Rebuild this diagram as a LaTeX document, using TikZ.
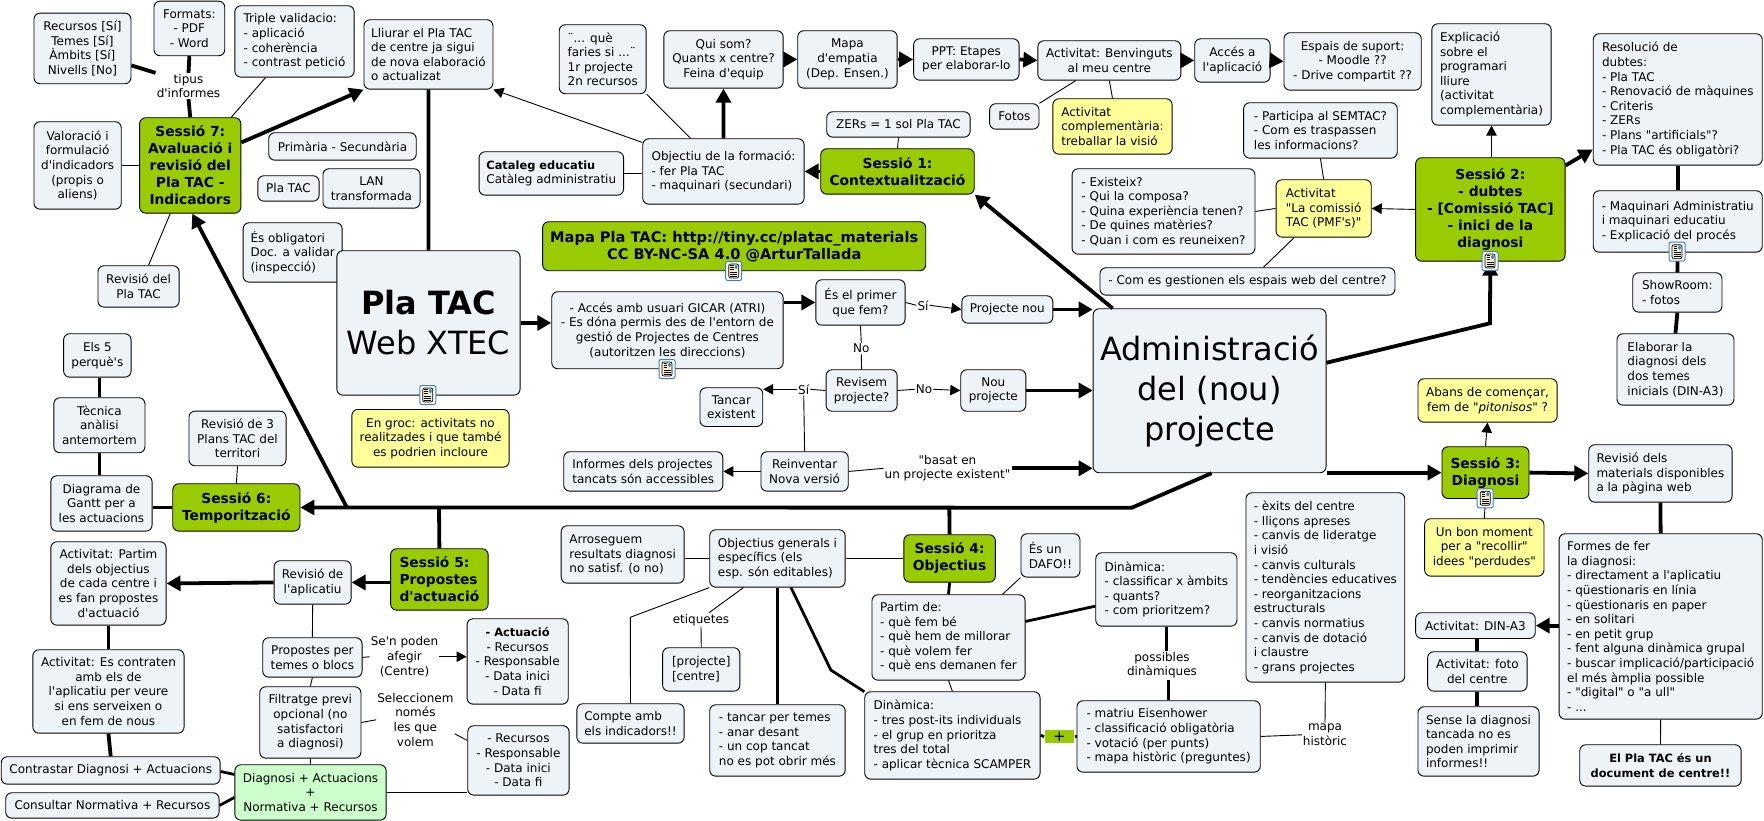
\documentclass[tikz,border=0pt]{standalone}
\usepackage{fontspec}
\usetikzlibrary{arrows.meta}
\newfontfamily\dv{DejaVu Sans}
\definecolor{boxfill}{HTML}{EDF3F6}
\definecolor{sessgreen}{HTML}{99CC00}
\definecolor{notegroc}{HTML}{FFFF99}
\definecolor{mixgreen}{HTML}{CCFFCC}
\definecolor{iconblue}{HTML}{3F7FD0}
\definecolor{iconpaper}{HTML}{F8F0C0}
\newcommand{\bfs}[1]{{\fontsize{11.4}{14.6}\selectfont\bfseries #1}}
\tikzset{
    sz/.style 2 args={minimum width=#1pt, minimum height=#2pt},
    box/.style={draw=black, fill=boxfill, rounded corners=6pt, anchor=north west, inner sep=0pt,
        line width=0.9pt, align=center, font=\dv\fontsize{12}{14.6}\selectfont},
    lbox/.style={box, align=left},
    note/.style={box, fill=notegroc},
    sess/.style={box, fill=sessgreen, font=\dv\bfseries\fontsize{13.8}{17}\selectfont},
    lab/.style={align=center, inner sep=1pt, font=\dv\fontsize{12}{14.6}\selectfont},
    fat/.style={line width=3.8pt},
    med/.style={line width=2.8pt},
    hair/.style={line width=0.9pt},
    bigtip/.style={-{Triangle[length=14pt,width=15pt]}},
    midtip/.style={-{Triangle[length=10pt,width=10.5pt]}},
    docicon/.style={draw=iconblue, fill=white, rounded corners=2pt, minimum width=16pt, minimum height=19pt,
        inner sep=0pt, line width=1pt, path picture={
            \begin{scope}[shift={(path picture bounding box.center)}]
                \draw[black, fill=iconpaper, line width=0.7pt] (-5,-7) rectangle (5,7);
                \fill[iconblue] (1,-6) rectangle (4,-2);
                \foreach \i in {-5.5,-3.5,-1.5} \draw[black, line width=0.7pt] (-3.5,\i) -- (0,\i);
                \foreach \i in {1,3,5} \draw[black, line width=0.7pt] (-3.5,\i) -- (3.5,\i);
            \end{scope}}},
}
\begin{document}
\begin{tikzpicture}[x=1pt, y=-1pt]
    \useasboundingbox (0,0) rectangle (1764,821);

    % left column, session 7
    \node[box, sz={97}{70.6}] (recursos) at (33.5,12.7) {Recursos [Sí]\\Temes [Sí]\\Àmbits [Sí]\\Nivells [No]};
    \node[box, sz={70.8}{54.6}] (formats) at (153.5,0.7) {Formats:\\- PDF\\- Word};
    \node[lbox, sz={119.3}{71.4}] (triple) at (234.4,5.3) {Triple validacio:\\- aplicació\\- coherència\\- contrast petició};
    \node[lbox, sz={129}{69.4}] (lliurar) at (363.5,19.3) {Lliurar el Pla TAC\\de centre ja sigui\\de nova elaboració\\o actualizat};
    \node[sess, sz={101.2}{95.4}] (sess7) at (139.2,117.3) {Sessió 7:\\Avaluació i\\revisió del\\Pla TAC -\\Indicadors};
    \node[box, sz={87.3}{87.4}] (valoracio) at (33.5,121.3) {Valoració i\\formulació\\d'indicadors\\(propis o\\aliens)};
    \node[box, sz={147.5}{27.4}] (primaria) at (268.3,132.3) {Primària - Secundària};
    \node[box, sz={61.3}{25.4}] (platacs) at (257.4,175.3) {Pla TAC};
    \node[box, sz={97.1}{39.4}] (lan) at (322.5,168.3) {LAN\\transformada};
    \node[lbox, sz={99}{59.4}, xshift=-4pt] (obligatori) at (246.7,222.3) {És obligatori\\Doc. a validar\\(inspecció)};
    \node[box, sz={81.2}{41.4}] (revisio) at (97.5,265.3) {Revisió del\\Pla TAC};
    \node[box, sz={183.2}{144.4}, font=\dv\fontsize{32}{40}\selectfont] (platac) at (336.4,250.3) {\textbf{Pla TAC}\\Web XTEC};
    \node[lab] (tipus) at (188.5,86) {tipus\\d'informes};

    % session 6 and its column
    \node[box, sz={67.4}{43.4}] (cinc) at (63.2,333.3) {Els 5\\perquè's};
    \node[box, sz={91.1}{55}] (tecnica) at (53.4,397.3) {Tècnica\\anàlisi\\antemortem};
    \node[box, sz={101.2}{55.4}] (gantt) at (50.4,475.3) {Diagrama de\\Gantt per a\\les actuacions};
    \node[box, sz={97.1}{54.6}] (revisio3) at (188.5,410.7) {Revisió de 3\\Plans TAC del\\territori};
    \node[sess, sz={127.2}{47.4}] (sess6) at (172.3,483.3) {Sessió 6:\\Temporització};
    \node[note, sz={157.3}{57.7}] (engroc) at (351.4,409) {En groc: activitats no\\realitzades i que també\\es podrien incloure};

    % session 5
    \node[box, sz={115.2}{83.4}] (partimc) at (50.4,541.3) {Activitat: Partim\\dels objectius\\de cada centre i\\es fan propostes\\d'actuació};
    \node[box, sz={77.1}{43.4}] (revapl) at (273.6,560.3) {Revisió de\\l'aplicatiu};
    \node[sess, sz={97.5}{61.4}, align=left] (sess5) at (390.2,548.3) {Sessió 5:\\Propostes\\d'actuació};
    \node[box, sz={151.2}{83.4}] (contraten) at (32.4,649.3) {Activitat: Es contraten\\amb els de\\l'aplicatiu per veure\\si ens serveixen o\\en fem de nous};
    \node[box, sz={99.3}{39.4}] (propostes) at (262.3,637.3) {Propostes per\\temes o blocs};
    \node[box, sz={101.2}{85.4}] (actuacio) at (466.6,618.3) {\bfs{- Actuació}\\- Recursos\\- Responsable\\- Data inici\\- Data fi};
    \node[box, sz={101.2}{71.4}] (filtratge) at (259.3,686.3) {Filtratge previ\\opcional (no\\satisfactori\\a diagnosi)};
    \node[box, sz={101.3}{69.4}] (recursosb) at (467.3,725.3) {- Recursos\\- Responsable\\- Data inici\\- Data fi};
    \node[box, sz={218.9}{27.4}] (contrastar) at (0.8,756.3) {Contrastar Diagnosi + Actuacions};
    \node[box, sz={213.3}{25.4}] (consultar) at (5.3,792.3) {Consultar Normativa + Recursos};
    \node[box, sz={151.3}{55.4}, fill=mixgreen] (diagnosi) at (234.4,764.3) {Diagnosi + Actuacions\\+\\Normativa + Recursos};
    \node[lab] (senpoden) at (404.5,656.7) {Se'n poden\\afegir\\(Centre)};
    \node[lab] (selec) at (415.4,719.8) {Seleccionem\\només\\les que\\volem};

    % session 1, top row
    \node[lbox, sz={86.9}{69}] (faries) at (558.8,24.3) {¨... què\\faries si ...¨\\1r projecte\\2n recursos};
    \node[box, sz={119.3}{57.4}] (quisom) at (663.4,30.3) {Qui som?\\Quants x centre?\\Feina d'equip};
    \node[box, sz={99.4}{57.4}] (empatia) at (797.3,30.3) {Mapa\\d'empatia\\(Dep. Ensen.)};
    \node[box, sz={105.4}{41.4}] (ppt) at (913.2,38.3) {PPT: Etapes\\per elaborar-lo};
    \node[box, sz={143}{39.4}] (benvinguts) at (1037.4,40.3) {Activitat: Benvinguts\\al meu centre};
    \node[box, sz={75.3}{43.4}] (aplicacio) at (1194.3,38.3) {Accés a\\l'aplicació};
    \node[box, sz={137.3}{57.4}] (espais) at (1283.5,32.3) {Espais de suport:\\- Moodle ??\\- Drive compartit ??};
    \node[box, sz={49.3}{25.4}] (fotos) at (989.2,103.3) {Fotos};
    \node[note, sz={119.3}{55.4}, align=left] (visio) at (1052.4,98.3) {Activitat\\complementària:\\treballar la visió};
    \node[box, sz={143.4}{25.4}] (zers) at (826.3,111.3) {ZERs = 1 sol Pla TAC};
    \node[sess, sz={153.5}{45.4}] (sess1) at (820.3,148.3) {Sessió 1:\\Contextualització};
    \node[lbox, sz={161.4}{65.4}] (objectiu) at (642.3,138.3) {Objectiu de la formació:\\- fer Pla TAC\\- maquinari (secundari)};
    \node[lbox, sz={144.5}{43.4}] (cataleg) at (478.6,151.3) {\bfs{Cataleg educatiu}\\Catàleg administratiu};
    \node[sess, sz={383.1}{49}, font=\dv\bfseries\fontsize{14.6}{17}\selectfont] (mapa) at (542.2,221.3) {Mapa Pla TAC: http://tiny.cc/platac\_materials\\CC BY-NC-SA 4.0 @ArturTallada};

    % web access, decisions
    \node[box, sz={231.4}{77}] (acces) at (551.3,291.3) {- Accés amb usuari GICAR (ATRI)\\- Es dóna permis des de l'entorn de\\gestió de Projectes de Centres\\(autoritzen les direccions)};
    \node[box, sz={89.2}{45.4}] (primer) at (815.4,279.3) {És el primer\\que fem?};
    \node[box, sz={91}{27.4}] (nou) at (961.4,295.3) {Projecte nou};
    \node[box, sz={71.1}{41.5}] (revisem) at (825.6,369.3) {Revisem\\projecte?};
    \node[box, sz={65.1}{41.5}] (noupro) at (960.3,369.3) {Nou\\projecte};
    \node[box, sz={62.8}{38.7}] (tancar) at (699.5,387.3) {Tancar\\existent};
    \node[lbox, sz={159.1}{39.4}] (informes) at (563.3,451.3) {Informes dels projectes\\tancats són accessibles};
    \node[box, sz={87.3}{39.4}] (reinventar) at (760.5,451.3) {Reinventar\\Nova versió};
    \node[lab] (sia) at (923,305.3) {Sí};
    \node[lab] (noa) at (861.3,348.7) {No};
    \node[lab] (nob) at (924,389.3) {No};
    \node[lab] (sib) at (803.7,389.3) {Sí};
    \node[lab] (basat) at (947.5,468.3) {"basat en\\un projecte existent"};
    \node[box, sz={232.9}{164}, font=\dv\fontsize{32}{40}\selectfont] (admin) at (1092.7,308.3) {Administració\\del (nou)\\projecte};

    % session 2
    \node[lbox, sz={119.3}{101.4}] (explicacio) at (1431.4,23.3) {Explicació\\sobre el\\programari\\lliure\\(activitat\\complementària)};
    \node[lbox, sz={169}{131.4}] (resolucio) at (1592.8,33.3) {Resolució de\\dubtes:\\- Pla TAC\\- Renovació de màquines\\- Criteris\\- ZERs\\- Plans "artificials"?\\- Pla TAC és obligatòri?};
    \node[lbox, sz={153.6}{55.4}] (participa) at (1243.2,102.3) {- Participa al SEMTAC?\\- Com es traspassen\\les informacions?};
    \node[lbox, sz={182.9}{85.4}] (existeix) at (1071.6,168.3) {- Existeix?\\- Qui la composa?\\- Quina experiència tenen?\\- De quines matèries?\\- Quan i com es reuneixen?};
    \node[note, sz={95.2}{57.4}, align=left] (comissio) at (1275.6,179.3) {Activitat\\"La comissió\\TAC (PMF's)"};
    \node[sess, sz={149.4}{103.4}] (sess2) at (1415.2,157.3) {Sessió 2:\\- dubtes\\- [Comissió TAC]\\- inici de la\\diagnosi};
    \node[box, sz={295}{27.4}] (comes) at (1099.5,267.3) {- Com es gestionen els espais web del centre?};
    \node[lbox, sz={169}{61.4}] (maquinari) at (1592.8,190.3) {- Maquinari Administratiu\\i maquinari educatiu\\- Explicació del procés};
    \node[lbox, sz={89.2}{39.4}] (showroom) at (1632.3,272.3) {ShowRoom:\\- fotos};
    \node[lbox, sz={117}{71.4}] (elaborar) at (1616.5,333.3) {Elaborar la\\diagnosi dels\\dos temes\\inicials (DIN-A3)};

    % session 3
    \node[note, sz={139.2}{43.4}] (abans) at (1417.5,378.3) {Abans de començar,\\fem de "\textit{pitonisos}" ?};
    \node[sess, sz={87}{51.7}] (sess3) at (1441.5,446.3) {Sessió 3:\\Diagnosi};
    \node[lbox, sz={143.3}{57.4}] (revmat) at (1588.3,444.3) {Revisió dels\\materials disponibles\\a la pàgina web};
    \node[note, sz={119.3}{57.4}] (unbon) at (1424.2,518.3) {Un bon moment\\per a "recollir"\\idees "perdudes"};
    \node[lbox, sz={203.2}{185.4}] (formes) at (1558.6,533.3) {Formes de fer\\la diagnosi:\\- directament a l'aplicatiu\\- qüestionaris en línia\\- qüestionaris en paper\\- en solitari\\- en petit grup\\- fent alguna dinàmica grupal\\- buscar implicació/participació\\el més àmplia possible\\- "digital" o "a ull"\\- ...};
    \node[box, sz={119.6}{25.7}] (dina) at (1415.2,612.3) {Activitat: DIN-A3};
    \node[box, sz={99.4}{39.4}] (foto) at (1427.2,651.3) {Activitat: foto\\del centre};
    \node[lbox, sz={121.1}{69.4}] (sense) at (1417.5,706.3) {Sense la diagnosi\\tancada no es\\poden imprimir\\informes!!};
    \node[box, sz={161.4}{41.4}] (elpla) at (1579.3,744.3) {\bfs{El Pla TAC és un}\\\bfs{document de centre!!}};

    % session 4
    \node[lbox, sz={123}{57.4}] (arroseguem) at (560.7,525.3) {Arroseguem\\resultats diagnosi\\no satisf. (o no)};
    \node[lbox, sz={135.4}{57.4}] (objgen) at (709.3,529.3) {Objectius generals i\\específics (els\\esp. són editables)};
    \node[sess, sz={91.5}{47.4}] (sess4) at (903.4,534.3) {Sessió 4:\\Objectius};
    \node[lbox, sz={59}{43.4}] (dafo) at (1020.5,533.3) {És un\\DAFO!!};
    \node[lbox, sz={141.2}{73.4}] (dinamicaa) at (1095.3,552.3) {Dinàmica:\\- classificar x àmbits\\- quants?\\- com prioritzem?};
    \node[lbox, sz={153.1}{85.4}] (partimde) at (871.5,594.3) {Partim de:\\- què fem bé\\- què hem de millorar\\- què volem fer\\- què ens demanen fer};
    \node[lbox, sz={107.3}{39.4}] (compte) at (576.4,703.3) {Compte amb\\els indicadors!!};
    \node[lbox, sz={77.2}{43.4}] (etiq) at (662.2,647.3) {[projecte]\\{}[centre]};
    \node[lbox, sz={135.4}{71.4}] (tancarper) at (709.3,704.3) {- tancar per temes\\- anar desant\\- un cop tancat\\no es pot obrir més};
    \node[lbox, sz={175.3}{87.4}] (dinamicab) at (864.3,691.3) {Dinàmica:\\- tres post-its individuals\\- el grup en prioritza\\tres del total\\- aplicar tècnica SCAMPER};
    \node[box, sz={29.7}{13.4}, draw=none, rounded corners=0pt, fill=sessgreen, font=\dv\fontsize{15}{15}\selectfont] (plus) at (1044.2,729.3) {+};
    \node[lbox, sz={183.3}{71.4}] (matriu) at (1076.5,700.3) {- matriu Eisenhower\\- classificació obligatòria\\- votació (per punts)\\- mapa històric (preguntes)};
    \node[lbox, sz={158.8}{189.4}] (exits) at (1245.5,492.3) {- èxits del centre\\- lliçons apreses\\- canvis de lideratge\\i visió\\- canvis culturals\\- tendències educatives\\- reorganitzacions\\estructurals\\- canvis normatius\\- canvis de dotació\\i claustre\\- grans projectes};
    \node[lab] (etiquetes) at (701,619.7) {etiquetes};
    \node[lab] (possibles) at (1162,665.3) {possibles\\dinàmiques};
    \node[lab] (historic) at (1325,734.8) {mapa\\històric};

    \coordinate (kneeadmin) at (1131.8,507.7);
    \coordinate (kneesess7) at (347,507.7);
    \coordinate (kneesess5) at (439,507.7);
    \coordinate (kneesess4) at (949.3,507.7);
    \coordinate (kneesess2) at (1489.9,323.3);
    \coordinate (kneecompte) at (630.3,617.3);
    \coordinate (kneedin) at (830.8,670);

    % main branches
    \draw[fat, bigtip] ([xshift=2]admin.south) -- (kneeadmin) -- (sess6.east);
    \draw[fat, bigtip] (kneesess7) -- ([xshift=2]sess7.south);
    \draw[fat] (kneesess5) -- (sess5.north);
    \draw[fat] (kneesess4) -- (sess4.north);
    \draw[fat, bigtip] ([yshift=28]admin.east) -- (kneesess2) -- (sess2.south);
    \draw[fat, bigtip] (sess3.west -| admin.east) -- (sess3.west);
    \draw[fat, bigtip] ([xshift=-97]admin.north) -- (sess1.south east);

    % session 7
    \draw[fat] ([yshift=-17]recursos.east) -- (tipus.north west);
    \draw[fat] (formats.south) -- (tipus.north);
    \draw[fat] (tipus.south) -- (sess7.north);
    \draw[hair] ([xshift=-29]triple.south) -- ([xshift=41]sess7.north);
    \draw[hair] (valoracio.east) -- (sess7.west);
    \draw[hair] ([xshift=10]revisio.north) -- ([xshift=-20]sess7.south);
    \draw[fat, bigtip] ([yshift=23]sess7.east) -- (lliurar.south west);
    \draw[fat] (lliurar.south) -- (platac.north);
    \draw[fat, bigtip] (platac.east) -- (platac.east -| acces.west);

    % session 6
    \draw[fat] (cinc.south -| tecnica.north) -- (tecnica.north);
    \draw[fat] (tecnica.south) -- (tecnica.south |- gantt.north);
    \draw[fat] (sess6.west -| gantt.east) -- (sess6.west);
    \draw[hair] (sess6.north) -- (revisio3.south);

    % session 5
    \draw[fat, bigtip] (sess5.west |- revapl.east) -- (revapl.east);
    \draw[fat, bigtip] (revapl.west) -- (partimc.east);
    \draw[fat] (partimc.south) -- (contraten.north);
    \draw[fat] (contraten.south) -- (contrastar.north);
    \draw[med] ([yshift=-1]contrastar.east) -- ([yshift=18]diagnosi.west);
    \draw[med] (consultar.east) -- ([yshift=-5]diagnosi.west);
    \draw[hair] (revapl.south) -- (propostes.north);
    \draw[hair] (propostes.south) -- (filtratge.north);
    \draw[hair] (filtratge.south) -- (diagnosi.north);
    \draw[hair] (propostes.east) -- (senpoden.west);
    \draw[hair, midtip] (senpoden.east) -- (senpoden.east -| actuacio.west);
    \draw[hair] (filtratge.east) -- (selec.west);
    \draw[hair] ([yshift=-14]selec.east) -- ([yshift=20]recursosb.west);
    \draw[hair] (diagnosi.east) -- (diagnosi.east -| recursosb.west);

    % session 1
    \draw[fat, bigtip] (sess1.west) -- (objectiu.east);
    \draw[hair] (sess1.north) -- (zers.south);
    \draw[fat, bigtip] (objectiu.north) -- (quisom.south);
    \draw[hair, midtip] ([yshift=29]objectiu.west) -- (lliurar.south east);
    \draw[hair] (faries.south east) -- ([xshift=-33]objectiu.north);
    \draw[hair] (cataleg.east) -- (cataleg.east -| objectiu.west);
    \draw[fat, bigtip] (quisom.east) -- (empatia.west);
    \draw[fat, bigtip] (empatia.east) -- (ppt.west);
    \draw[fat, bigtip] (ppt.east) -- (benvinguts.west);
    \draw[fat, bigtip] (benvinguts.east) -- (aplicacio.west);
    \draw[fat, bigtip] (aplicacio.east) -- (espais.west);
    \draw[hair] ([xshift=-33.5]benvinguts.south) -- (fotos.north east);
    \draw[hair] (benvinguts.south) -- (visio.north);

    % decisions
    \draw[fat, bigtip] (primer.west -| acces.east) -- (primer.west);
    \draw[hair] (primer.east) -- (sia.west);
    \draw[hair, midtip] (sia.east) -- (nou.west);
    \draw[fat, bigtip] (nou.east) -- (nou.east -| admin.west);
    \draw[hair] (primer.south) -- (noa.north);
    \draw[hair] (noa.south) -- (revisem.north);
    \draw[hair] (revisem.east) -- (nob.west);
    \draw[hair, midtip] (nob.east) -- (noupro.west);
    \draw[fat, bigtip] (noupro.east) -- (noupro.east -| admin.west);
    \draw[hair] (revisem.west) -- (sib.east);
    \draw[hair, midtip] (sib.west) -- (sib.west -| tancar.east);
    \draw[hair] (sib.south) -- (reinventar.north);
    \draw[hair, midtip] (reinventar.west) -- (informes.east);
    \draw[hair] (reinventar.east) -- (basat.west);
    \draw[fat, bigtip] (basat.east) -- (basat.east -| admin.west);

    % session 2
    \draw[hair, midtip] (sess2.north -| explicacio.south) -- (explicacio.south);
    \draw[fat, bigtip] ([yshift=44]sess2.east) -- ([yshift=-50]resolucio.west);
    \draw[fat] (resolucio.south) -- (maquinari.north);
    \draw[fat] (maquinari.south) -- (showroom.north);
    \draw[fat] (showroom.south) -- (elaborar.north);
    \draw[hair, midtip] (sess2.west) -- (comissio.east);
    \draw[hair] (comissio.north) -- (participa.south);
    \draw[hair] (comissio.west) -- (existeix.east);
    \draw[hair] ([xshift=-29.5]comissio.south) -- ([xshift=16]comes.north);

    % session 3
    \draw[hair, midtip] (sess3.north) -- (abans.south);
    \draw[hair] (sess3.south) -- (unbon.north);
    \draw[fat, bigtip] (sess3.east) -- (revmat.west);
    \draw[fat] (revmat.south) -- (formes.north);
    \draw[fat, bigtip] (formes.west |- dina.east) -- (dina.east);
    \draw[fat] (foto.north |- dina.south) -- (foto.north);
    \draw[fat] (foto.south) -- (foto.south |- sense.north);
    \draw[hair] (formes.south) -- (elpla.north);

    % session 4
    \draw[hair] (sess4.west) -- (objgen.east);
    \draw[hair] (objgen.west) -- (objgen.west -| arroseguem.east);
    \draw[hair] (objgen.south west) -- (kneecompte) -- (compte.north);
    \draw[hair] ([xshift=-34]objgen.south) -- ([xshift=8]etiquetes.north);
    \draw[hair] (etiquetes.south) -- (etiq.north);
    \draw[fat] (objgen.south) -- (tancarper.north);
    \draw[med] ([xshift=13.6]objgen.south) -- (kneedin) -- ([yshift=-0.4]dinamicab.north west);
    \draw[med] (sess4.south) -- (partimde.north);
    \draw[hair] (dafo.south west) -- ([xshift=54]partimde.north);
    \draw[hair] (partimde.south) -- (dinamicab.north);
    \draw[med] ([yshift=16]partimde.east) -- ([yshift=-16.7]dinamicaa.west);
    \draw[med] (dinamicaa.south) -- (dinamicaa.south |- possibles.north);
    \draw[med] (possibles.south -| matriu.north) -- (matriu.north);
    \draw[med] (dinamicab.east) -- (plus.west);
    \draw[med] (plus.east) -- (matriu.west);
    \draw[hair] (matriu.east) -- (historic.west);
    \draw[hair] (exits.south) -- (historic.north);

    % attached notes
    \node[docicon] (iconplatac) at (427.8,395) {};
    \node[docicon] (iconmapa) at (733.7,271) {};
    \node[docicon] (iconacces) at (667,369) {};
    \node[docicon] (iconsess2) at (1490,261) {};
    \node[docicon] (iconmaq) at (1677,251.7) {};
    \node[docicon] (iconsess3) at (1485.2,498.3) {};
\end{tikzpicture}
\end{document}
